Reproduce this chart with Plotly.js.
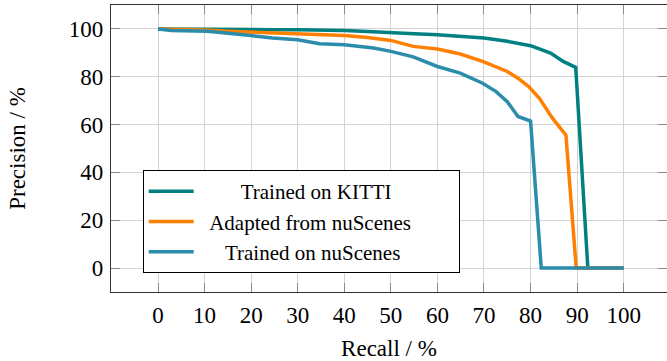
<!DOCTYPE html>
<html>
<head>
<meta charset="utf-8">
<script src="https://cdn.plot.ly/plotly-3.0.1.min.js"></script>
<style>html,body{margin:0;padding:0;background:#fff;}#chart{width:667px;height:361px;}</style>
</head>
<body>
<div id="chart"></div>
<script>
const seriesNames = ["Trained on KITTI", "Adapted from nuScenes", "Trained on nuScenes"];

const recallKitti = [0, 5, 10, 15, 20, 25, 30, 35, 40, 45, 50, 55, 60, 65, 70, 75, 80, 84.3, 87, 89.7, 92.3, 95, 100];
const precisionKitti = [100, 100, 100, 99.9, 99.8, 99.7, 99.6, 99.5, 99.3, 98.9, 98.3, 98.0, 97.6, 97.0, 96.2, 94.8, 93.0, 89.9, 86.4, 83.9, 0, 0, 0];

const recallAdapted = [0, 5, 10, 15, 20, 25, 30, 35, 40, 45, 50, 54.8, 60, 64.9, 69.7, 75, 77.3, 79.6, 81.9, 84.7, 87.6, 89.8, 95, 100];
const precisionAdapted = [100, 99.8, 99.5, 99.0, 98.7, 98.3, 97.9, 97.6, 97.2, 96.4, 95.2, 92.7, 91.6, 89.5, 86.4, 82.2, 79.4, 75.9, 71.0, 62.7, 55.6, 0, 0, 0];

const recallNuscenes = [0, 2.9, 10.6, 15, 20, 24.6, 30, 34.7, 40, 46.3, 50, 54.8, 60, 64.9, 69.7, 72.6, 75, 77.3, 80, 82.3, 90, 100];
const precisionNuscenes = [100, 99.3, 99.0, 98.0, 97.2, 96.2, 95.5, 93.8, 93.4, 92.0, 90.6, 88.3, 84.3, 81.5, 77.3, 73.8, 69.6, 63.4, 61.5, 0, 0, 0];

const xTicks = [0, 10, 20, 30, 40, 50, 60, 70, 80, 90, 100];
const yTicks = [0, 20, 40, 60, 80, 100];

const colors = ["#008080", "#ff8000", "#2b8cab"];
const nb = "\u00a0";
const legendNames = [
  nb.repeat(8) + seriesNames[0],
  nb.repeat(2) + seriesNames[1] + nb.repeat(8),
  nb.repeat(5) + seriesNames[2]
];

const xs = [recallKitti, recallAdapted, recallNuscenes];
const ys = [precisionKitti, precisionAdapted, precisionNuscenes];

const traces = xs.map((x, i) => ({
  x: x, y: ys[i], type: "scatter", mode: "lines",
  name: legendNames[i],
  line: {color: colors[i], width: 3.5},
  hoverinfo: "skip"
}));

const font = {family: "'Liberation Serif', 'Times New Roman', serif", size: 23, color: "#000"};
const legendFont = {family: "'Liberation Serif', 'Times New Roman', serif", size: 21, color: "#000"};

const axisCommon = {
  showgrid: true, gridcolor: "#d3d3d3", gridwidth: 1,
  zeroline: false,
  showline: true, linecolor: "#333", linewidth: 1.2, mirror: "ticks",
  ticks: "inside", ticklen: 9, tickcolor: "#8a8a8a", tickwidth: 1,
  tickfont: font
};

const layout = {
  width: 667, height: 361,
  margin: {l: 111, r: 0, t: 5, b: 69},
  paper_bgcolor: "#fff", plot_bgcolor: "#fff",
  font: font,
  showlegend: true,
  legend: {
    x: 0.057, y: 0.425, xanchor: "left", yanchor: "top",
    bgcolor: "#fff", bordercolor: "#000", borderwidth: 1,
    font: legendFont, itemwidth: 45, tracegroupgap: 0
  },
  xaxis: Object.assign({}, axisCommon, {
    range: [-10.1, 109.3], tickvals: xTicks, ticktext: xTicks.map(String),
    title: {text: "Recall / %", font: font, standoff: 16},
    ticklabelstandoff: 2
  }),
  yaxis: Object.assign({}, axisCommon, {
    range: [-10, 110], tickvals: yTicks, ticktext: yTicks.map(String),
    title: {text: "Precision / %", font: font, standoff: 36},
    ticklabelstandoff: 2
  })
};

Plotly.newPlot("chart", traces, layout, {staticPlot: true, displayModeBar: false});
</script>
</body>
</html>
